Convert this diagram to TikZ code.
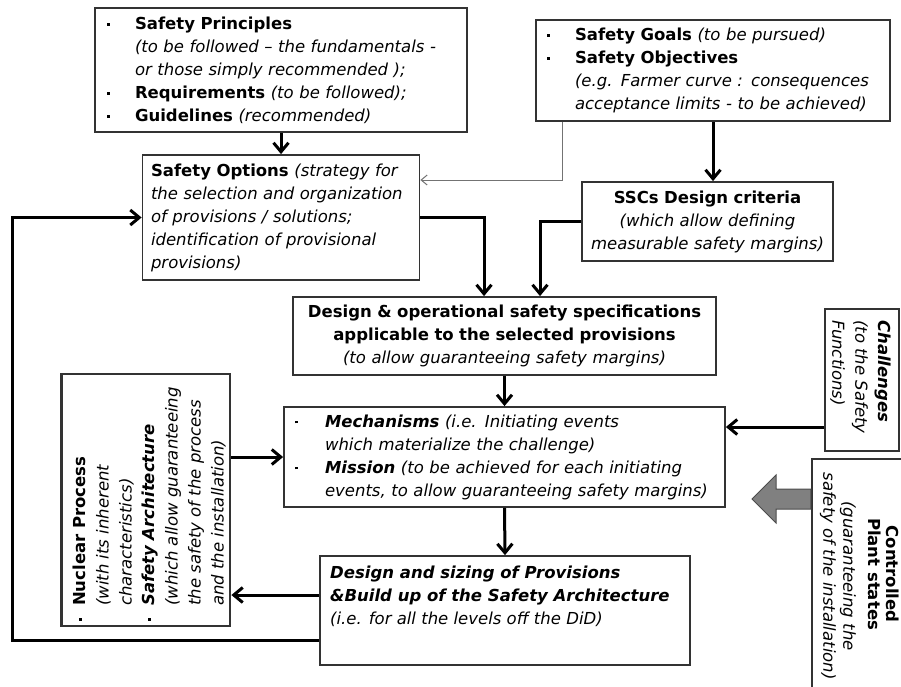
\documentclass[tikz,border=0pt]{standalone}
\usepackage{fontspec}
\setmainfont{DejaVu Sans}
\usetikzlibrary{arrows.meta}

% text size used in every box
\newcommand\fs{\fontsize{16.5}{23}\selectfont}
% small square bullet and hanging indent for the listed items
\newcommand\bul[1][29pt]{\makebox[#1][l]{\hspace*{1pt}\rule[3.6pt]{2.8pt}{2.8pt}}}
\newcommand\ind[1][29pt]{\hspace*{#1}}
\newcommand\bi[1]{\textbf{\textit{#1}}}

\tikzset{
  box/.style={draw=black!80, line width=1.8pt, inner ysep=0pt, font=\fs, align=left},
  txt/.style={inner sep=0pt, font=\fs, align=left},
  arr/.style={line width=3pt, -{Straight Barb[length=9pt,width=15pt]}},
  thinarr/.style={draw=black!55, line width=1pt, -{Straight Barb[length=6pt,width=10pt]}},
  blockarrow/.style={fill=black!50, draw=black!70, line width=1pt},
}

\begin{document}
\begin{tikzpicture}[x=1pt, y=-1pt]
\useasboundingbox (0,0) rectangle (901,686);
\clip (0,0) rectangle (901,686);

% principles, requirements, guidelines
\node[box, minimum width=372pt, minimum height=124pt, inner xsep=11pt, text width=350pt] (A) at (281,70)
 {\bul\textbf{Safety Principles}\\
  \ind\textit{(to be followed – the fundamentals -}\\
  \ind\textit{or those simply recommended );}\\
  \bul\textbf{Requirements} \textit{(to be followed);}\\
  \bul\textbf{Guidelines} \textit{(recommended)}};

% goals and objectives
\node[box, minimum width=354pt, minimum height=101pt, inner xsep=10pt, text width=334pt] (B) at (713,70.5)
 {\bul\textbf{Safety Goals} \textit{(to be pursued)}\\
  \bul\textbf{Safety Objectives}\\
  \ind\textit{(e.g. Farmer curve : consequences}\\
  \ind\textit{acceptance limits - to be achieved)}};

% safety options
\node[box, minimum width=277pt, minimum height=125pt, inner xsep=8.5pt, text width=260pt] (C) at (281,217.5)
 {\textbf{Safety Options} \textit{(strategy for}\\
  \textit{the selection and organization}\\
  \textit{of provisions / solutions;}\\
  \textit{identification of provisional}\\
  \textit{provisions)}};

% design criteria
\node[box, align=center, minimum width=251pt, minimum height=79pt, inner xsep=4pt, text width=243pt] (D) at (707.5,221.5)
 {\textbf{SSCs Design criteria}\\
  \textit{(which allow defining}\\
  \textit{measurable safety margins)}};

% specifications
\node[box, align=center, minimum width=423pt, minimum height=78pt, inner xsep=5pt, text width=413pt] (E) at (504.5,336)
 {\textbf{Design \& operational safety specifications}\\
  \textbf{applicable to the selected provisions}\\
  \textit{(to allow guaranteeing safety margins)}};

% mechanisms and mission
\node[box, minimum width=441pt, minimum height=100pt, inner xsep=10pt, text width=421pt] (F) at (504.5,457)
 {\bul[31pt]\bi{Mechanisms} \textit{(i.e. Initiating events}\\
  \ind[31pt]\textit{which materialize the challenge)}\\
  \bul[31pt]\bi{Mission} \textit{(to be achieved for each initiating}\\
  \ind[31pt]\textit{events, to allow guaranteeing safety margins)}};

% provisions and architecture
\node[box, minimum width=370pt, minimum height=109pt] (G) at (505,610.5) {};
\node[txt, anchor=north west] (Gt) at (330,562.4)
 {\strut\bi{Design and sizing of Provisions}\\
  \bi{\&Build up of the Safety Architecture}\\
  \textit{(i.e. for all the levels off the DiD)}};

% process and architecture (vertical text)
\node[box, line width=2.8pt, minimum width=168.5pt, minimum height=252pt] (H) at (145.75,500) {};
\node[txt, rotate=90, anchor=west] (Ht) at (149.4,622)
 {\bul[16pt]\textbf{Nuclear Process}\\
  \ind[16pt]\textit{(with its inherent}\\
  \ind[16pt]\textit{characteristics)}\\
  \bul[16pt]\bi{Safety Architecture}\\
  \ind[16pt]\textit{(which allow guaranteeing}\\
  \ind[16pt]\textit{the safety of the process}\\
  \ind[16pt]\textit{and the installation)}};

% challenges (vertical text)
\node[box, line width=2.2pt, minimum width=74pt, minimum height=142pt] (I) at (862,380) {};
\node[txt, rotate=-90, anchor=west] (It) at (860.5,320)
 {\bi{Challenges}\\
  \textit{(to the Safety}\\
  \textit{Functions)}};

% controlled plant states (vertical text)
\node[box, line width=2.2pt, minimum width=93pt, minimum height=241pt] (J) at (858.5,579.5) {};
\node[txt, rotate=-90, align=center, font=\fontsize{16.5}{18}\selectfont] (Jt1) at (884,574)
 {\textbf{Controlled}\\ \textbf{Plant states}};
\node[txt, rotate=-90, align=center, font=\fontsize{16.5}{20}\selectfont] (Jt2) at (838,576)
 {\textit{(guaranteeing the}\\ \textit{safety of the installation)}};

% wide grey arrow pointing from the plant states
\draw[blockarrow] (J.west |- 0,489) -- (776,489) -- (776,475) -- (752,499)
  -- (776,523) -- (776,509) -- (J.west |- 0,509) -- cycle;

% connectors
\coordinate (bc) at (562,180);
\coordinate (ce) at (484,0);
\coordinate (de) at (540,0);
\coordinate (if) at (0,427);
\coordinate (gh) at (0,595);
\coordinate (loop) at (12.6,640);

\draw[arr] (A.south) -- (C.north);
\draw[thinarr] (B.south -| bc) |- (C.east |- bc);
\draw[arr] (B.south) -- (B.south |- D.north);
\draw[arr] (C.east) -| (ce |- E.north);
\draw[arr] (D.west) -| (de |- E.north);
\draw[arr] (E.south) -- (F.north);
\draw[arr] (F.south) -- (G.north);
\draw[arr] (I.west |- if) -- (F.east |- if);
\draw[arr] (H.east |- F.west) -- (F.west);
\draw[arr] (G.west |- gh) -- (H.east |- gh);
\draw[arr] (G.west |- loop) -- (loop) |- (C.west);
\end{tikzpicture}
\end{document}
